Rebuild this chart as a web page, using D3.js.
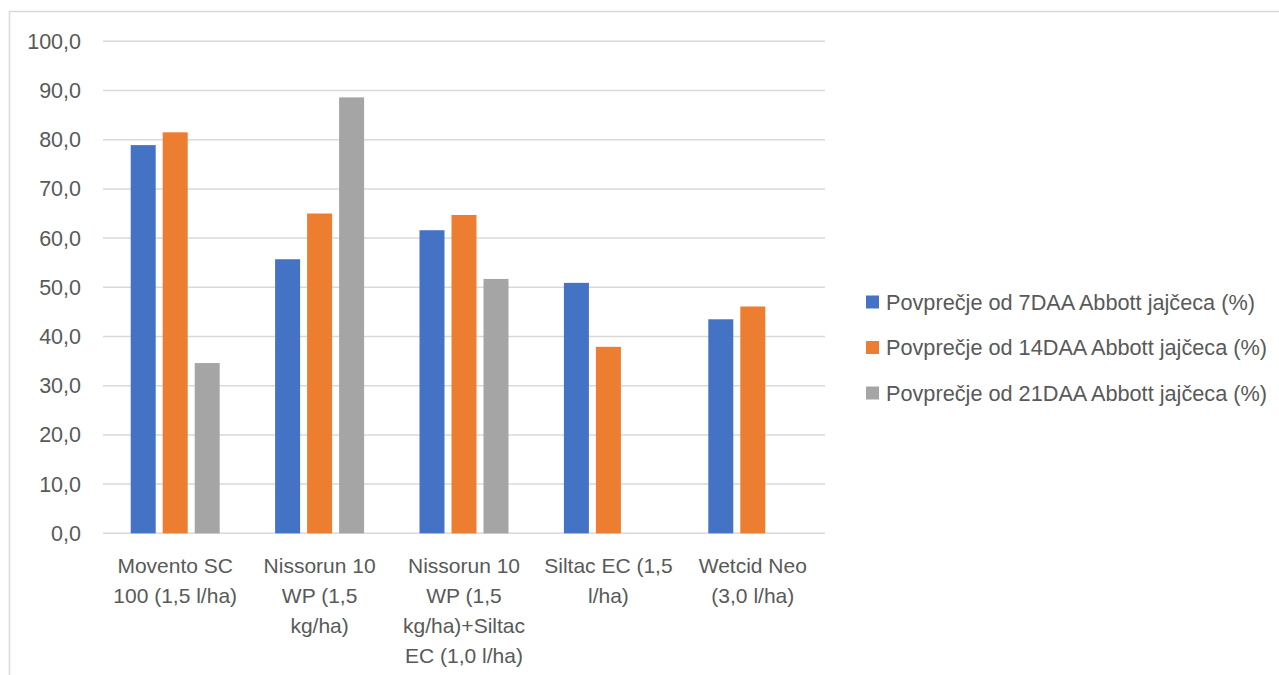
<!DOCTYPE html>
<html><head><meta charset="utf-8">
<script src="https://cdn.jsdelivr.net/npm/d3@7"></script>
<style>body{margin:0;background:#fff}svg{display:block}</style>
</head><body>
<svg id="c" width="1279" height="675"></svg>
<script>
const categories = [
  ["Movento SC", "100 (1,5 l/ha)"],
  ["Nissorun 10", "WP (1,5", "kg/ha)"],
  ["Nissorun 10", "WP (1,5", "kg/ha)+Siltac", "EC (1,0 l/ha)"],
  ["Siltac EC (1,5", "l/ha)"],
  ["Wetcid Neo", "(3,0 l/ha)"]
];
const seriesNames = [
  "Povprečje od 7DAA Abbott jajčeca (%)",
  "Povprečje od 14DAA Abbott jajčeca (%)",
  "Povprečje od 21DAA Abbott jajčeca (%)"
];
const day7  = [78.9, 55.7, 61.6, 50.9, 43.5];
const day14 = [81.5, 65.0, 64.7, 37.9, 46.1];
const day21 = [34.6, 88.6, 51.7, null, null];
const yTicks = [0,10,20,30,40,50,60,70,80,90,100];
const colors = ["#4472C4", "#ED7D31", "#A5A5A5"];

(function(){
const series = [day7, day14, day21];
const svg = d3.select("#c");
const font = "'Liberation Sans', Arial, sans-serif";
const txt = "#595959";

svg.append("rect").attr("x",9.5).attr("y",11.5).attr("width",1300).attr("height",700)
  .attr("fill","none").attr("stroke","#d9d9d9").attr("stroke-width",1.5);

const pl = 103, pr = 825, pt = 41.3, pb = 533.3;
const x = d3.scaleBand().domain(d3.range(categories.length)).range([pl, pr]);
const y = d3.scaleLinear().domain([0,100]).range([pb, pt]);
const barW = 25, step = 32;

const g = svg.append("g");
g.selectAll("line.grid").data(yTicks).join("line")
  .attr("x1", pl).attr("x2", pr)
  .attr("y1", d => y(d)).attr("y2", d => y(d))
  .attr("stroke", "#d9d9d9").attr("stroke-width", 1.5);

g.selectAll("text.yt").data(yTicks).join("text")
  .attr("x", 81).attr("y", d => y(d)).attr("dy","0.35em")
  .attr("text-anchor","end").attr("font-family",font).attr("font-size",21.5).attr("fill",txt)
  .text(d => d3.format(".1f")(d).replace(".", ","));

series.forEach((vals, si) => {
  g.selectAll("rect.s"+si).data(vals.map((v,i)=>({v,i})).filter(d=>d.v!=null)).join("rect")
    .attr("class","s"+si)
    .attr("x", d => x(d.i) + x.bandwidth()/2 - (3*barW + 2*(step-barW))/2 + si*step)
    .attr("y", d => y(d.v))
    .attr("width", barW)
    .attr("height", d => y(0) - y(d.v))
    .attr("fill", colors[si]);
});

categories.forEach((lines, i) => {
  const t = g.append("text").attr("text-anchor","middle").attr("font-family",font)
    .attr("font-size",21).attr("fill",txt);
  lines.forEach((l, j) => {
    t.append("tspan").attr("x", x(i) + x.bandwidth()/2).attr("y", 573 + j*30).text(l);
  });
});

const leg = svg.append("g");
seriesNames.forEach((n, i) => {
  const cy = 302 + i*45.5;
  leg.append("rect").attr("x",866).attr("y",cy-6.5).attr("width",13).attr("height",13).attr("fill",colors[i]);
  leg.append("text").attr("x",886).attr("y",cy).attr("dy","0.35em")
    .attr("font-family",font).attr("font-size",21.7).attr("fill",txt).text(n);
});
})();
</script>
</body></html>
